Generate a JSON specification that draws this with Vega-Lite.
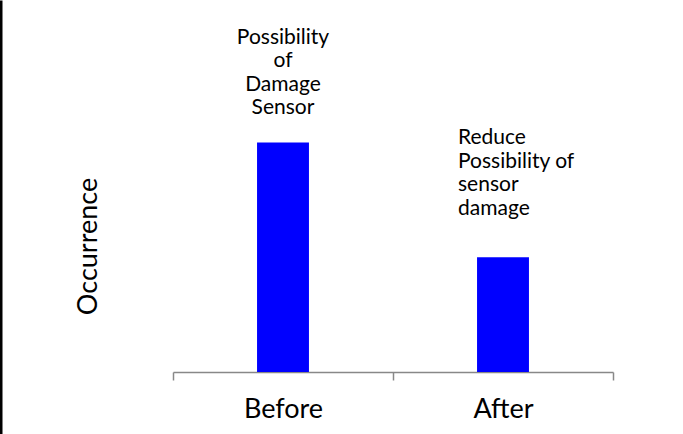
{
  "$schema": "https://vega.github.io/schema/vega-lite/v6.json",
  "autosize": "none",
  "width": 440,
  "height": 434,
  "padding": {"left": 173, "top": 0, "right": 70, "bottom": 0},
  "background": "white",
  "config": {
    "view": {"stroke": null},
    "font": "Lato",
    "text": {"font": "Lato", "color": "black"}
  },
  "data": {
    "values": [
      {"period": "Before", "occurrence": 3.7, "note": "Possibility\nof\nDamage\nSensor"},
      {"period": "After", "occurrence": 1.85, "note": "Reduce\nPossibility of\nsensor\ndamage"}
    ]
  },
  "encoding": {
    "x": {
      "field": "period",
      "type": "nominal",
      "sort": ["Before", "After"],
      "scale": {"paddingInner": 0, "paddingOuter": 0},
      "axis": {
        "title": null,
        "orient": "bottom",
        "offset": -62,
        "labelAngle": 0,
        "labelFontSize": 27,
        "labelColor": "black",
        "labelFont": "Lato",
        "labelPadding": 16,
        "domainColor": "#888888",
        "domainWidth": 1.5,
        "tickColor": "#888888",
        "tickWidth": 1.5,
        "tickSize": 8,
        "tickBand": "extent"
      }
    },
    "y": {
      "field": "occurrence",
      "type": "quantitative",
      "scale": {"domain": [-1, 6], "nice": false, "zero": false},
      "axis": {
        "orient": "left",
        "offset": 173,
        "title": "Occurrence",
        "titleFont": "Lato",
        "titleFontSize": 27,
        "titleFontWeight": "normal",
        "titleColor": "black",
        "titleX": 96,
        "titleY": 246,
        "titleBaseline": "alphabetic",
        "titleAngle": -90,
        "labels": false,
        "ticks": false,
        "grid": false,
        "domainColor": "black",
        "domainWidth": 4
      }
    }
  },
  "layer": [
    {
      "mark": {"type": "bar", "color": "#0000FF", "width": {"band": 0.236}},
      "encoding": {"y2": {"datum": 0}}
    },
    {
      "transform": [{"filter": "datum.period === 'Before'"}],
      "mark": {
        "type": "text",
        "lineBreak": "\n",
        "align": "center",
        "baseline": "alphabetic",
        "fontSize": 21,
        "lineHeight": 23.5,
        "dy": -99
      },
      "encoding": {"text": {"field": "note"}}
    },
    {
      "transform": [{"filter": "datum.period === 'After'"}],
      "mark": {
        "type": "text",
        "lineBreak": "\n",
        "align": "left",
        "baseline": "alphabetic",
        "fontSize": 21,
        "lineHeight": 23.5,
        "dx": -45,
        "dy": -113
      },
      "encoding": {"text": {"field": "note"}}
    }
  ]
}
